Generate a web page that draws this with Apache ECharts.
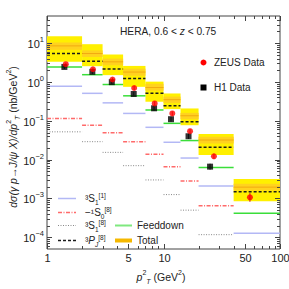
<!DOCTYPE html>
<html><head><meta charset="utf-8">
<script src="https://cdn.jsdelivr.net/npm/echarts@6/dist/echarts.min.js"></script>
<style>html,body{margin:0;padding:0;background:#fff}#c{width:289px;height:289px}</style>
</head><body><div id="c"></div>
<script>
// ---- data (pT^2 bins in GeV^2, cross sections in nb/GeV^2) ----
const binLow  = [1, 2, 3, 4.5, 7, 10, 14, 20, 40];
const binHigh = [2, 3, 4.5, 7, 10, 14, 20, 40, 100];
const s1Singlet = [0.78, 0.51, 0.29, 0.155, 0.068, 0.028, 0.011, 0.0021, 0.000127];
const s0Octet   = [0.115, 0.077, 0.049, 0.029, 0.0138, 0.0066, 0.0028, 0.00065, null];
const s1Octet   = [0.052, 0.029, 0.0154, 0.007, 0.003, 0.00126, 0.0005, 0.000117, null];
const pjOctet   = [5.4, 3.42, 2.17, 1.23, 0.515, 0.243, 0.094, 0.021, 0.0015];
const feeddown  = [2.44, 1.54, 0.86, 0.44, 0.19, 0.086, 0.031, 0.0063, 0.000416];
const totalCentral   = [8.5, 5.4, 3.3, 1.8, 0.72, 0.35, 0.135, 0.032, 0.00196];
const totalInnerLow  = [6.8, 4.4, 2.7, 1.45, 0.6, 0.29, 0.11, 0.026, 0.0016];
const totalInnerHigh = [10.4, 6.5, 4.0, 2.2, 0.9, 0.42, 0.16, 0.039, 0.0024];
const totalLow  = [3.3, 2.55, 1.5, 0.75, 0.31, 0.2, 0.077, 0.0131, 0.00085];
const totalHigh = [15, 9.4, 5.1, 2.59, 1.02, 0.506, 0.208, 0.0455, 0.00317];
const zeusPt2 = [1.45, 2.48, 3.65, 5.6, 8.4, 11.9, 16.9, 27.1, 55.2];
const zeusVal = [2.87, 2.13, 1.16, 0.70, 0.28, 0.155, 0.054, 0.0122, 0.00107];
const zeusErrLow  = [2.6, 1.95, 1.05, 0.62, 0.25, 0.135, 0.047, 0.0105, 0.00082];
const zeusErrHigh = [3.15, 2.35, 1.28, 0.79, 0.32, 0.175, 0.062, 0.0142, 0.00138];
const h1Pt2 = [1.41, 2.45, 3.6, 5.55, 8.3, 11.6, 16.4, 25.1];
const h1Val = [2.44, 1.82, 0.99, 0.49, 0.21, 0.11, 0.040, 0.0066];
const h1ErrLow  = [2.15, 1.6, 0.88, 0.43, 0.18, 0.095, 0.034, 0.0055];
const h1ErrHigh = [2.75, 2.05, 1.12, 0.56, 0.245, 0.128, 0.047, 0.0079];
const xTickMajor  = [1, 5, 10, 50, 100];
const xTickLabels = ['1', '5', '10', '50', '100'];
const xTickMinor  = [2, 3, 4, 6, 7, 8, 9, 20, 30, 40, 60, 70, 80, 90];
const yTickMajor  = [1e-4, 1e-3, 1e-2, 1e-1, 1, 10];
const yTickExp    = ['−4', '−3', '−2', '−1', '0', '1'];
const yMantissas  = [2, 3, 4, 5, 6, 7, 8, 9];
const X_MIN = 1, X_MAX = 100, Y_MIN = 5e-5, Y_MAX = 50;

const FONT = '"Liberation Sans", Arial, sans-serif';
const TXT = '#222';

function rows(vals) {
  const d = [];
  binLow.forEach((lo, i) => { if (vals[i] != null) d.push([lo, binHigh[i], vals[i]]); });
  return d;
}
function segSeries(name, vals, style, z) {
  return {
    type: 'custom', name, z, data: rows(vals), encode: { x: [0, 1], y: 2 },
    renderItem(params, api) {
      const a = api.coord([api.value(0), api.value(2)]);
      const b = api.coord([api.value(1), api.value(2)]);
      return { type: 'line', shape: { x1: a[0], y1: a[1], x2: b[0], y2: b[1] },
        style: Object.assign({ fill: null, lineCap: 'butt' }, style) };
    }
  };
}
function bandSeries(lows, highs, color, z) {
  const d = binLow.map((lo, i) => [lo, binHigh[i], lows[i], highs[i]]);
  return {
    type: 'custom', z, data: d, encode: { x: [0, 1], y: [2, 3] },
    renderItem(params, api) {
      const a = api.coord([api.value(0), api.value(3)]);
      const b = api.coord([api.value(1), api.value(2)]);
      return { type: 'rect', shape: { x: a[0], y: a[1], width: b[0] - a[0], height: b[1] - a[1] },
        style: { fill: color } };
    }
  };
}
function errSeries(xs, lo, hi, color, z) {
  return {
    type: 'custom', z, data: xs.map((x, i) => [x, lo[i], hi[i]]), encode: { x: 0, y: [1, 2] },
    renderItem(params, api) {
      const a = api.coord([api.value(0), api.value(1)]);
      const b = api.coord([api.value(0), api.value(2)]);
      return { type: 'line', shape: { x1: a[0], y1: a[1], x2: b[0], y2: b[1] }, style: { stroke: color, lineWidth: 1 } };
    }
  };
}

const yMinor = [];
[-5, -4, -3, -2, -1, 0, 1].forEach(e => yMantissas.forEach(m => {
  const v = m * Math.pow(10, e);
  if (v > Y_MIN * 1.0001 && v < Y_MAX * 0.9999) yMinor.push(v);
}));

const decor = {
  type: 'custom', z: 20, silent: true, data: [[2, 1]], encode: { x: 0, y: 1 },
  renderItem(params, api) {
    const cs = params.coordSys;
    const L = cs.x, R = cs.x + cs.width, T = cs.y, B = cs.y + cs.height;
    const ch = [];
    const st = { stroke: '#444', lineWidth: 1 };
    const ln = (x1, y1, x2, y2) => ch.push({ type: 'line', shape: { x1, y1, x2, y2 }, style: st });
    xTickMajor.forEach((v, i) => {
      const px = Math.round(api.coord([v, 1])[0]) + 0.5;
      ln(px, B, px, B - 5); ln(px, T, px, T + 5);
      ch.push({ type: 'text', x: px, y: B + 3, style: { text: xTickLabels[i], align: 'center', verticalAlign: 'top', fill: TXT, font: '11px ' + FONT } });
    });
    xTickMinor.forEach(v => {
      const px = Math.round(api.coord([v, 1])[0]) + 0.5;
      ln(px, B, px, B - 3); ln(px, T, px, T + 3);
    });
    yTickMajor.forEach((v, i) => {
      const py = Math.round(api.coord([1, v])[1]) + 0.5;
      ln(L, py, L + 5, py); ln(R, py, R - 5, py);
      ch.push({ type: 'text', x: L - 3, y: py, style: {
        text: '{b|10}{s|' + yTickExp[i] + '}', align: 'right', verticalAlign: 'middle',
        rich: { b: { fontSize: 11, fontFamily: FONT, fill: TXT, lineHeight: 17 },
                s: { fontSize: 7.5, fontFamily: FONT, fill: TXT, verticalAlign: 'top', lineHeight: 9 } } } });
    });
    yMinor.forEach(v => {
      const py = Math.round(api.coord([1, v])[1]) + 0.5;
      ln(L, py, L + 3, py); ln(R, py, R - 3, py);
    });
    return { type: 'group', children: ch };
  }
};

const chart = echarts.init(document.getElementById('c'), null, { renderer: 'svg' });

const legendRich = {
  b: { fontSize: 10, fontFamily: FONT, fill: TXT, lineHeight: 14 },
  bi: { fontSize: 10, fontFamily: FONT, fontStyle: 'italic', fill: TXT, lineHeight: 14 },
  sup: { fontSize: 6.5, fontFamily: FONT, fill: TXT, verticalAlign: 'top', lineHeight: 8 },
  sub: { fontSize: 6.5, fontFamily: FONT, fill: TXT, verticalAlign: 'bottom', lineHeight: 8 },
  subi: { fontSize: 6.5, fontFamily: FONT, fontStyle: 'italic', fill: TXT, verticalAlign: 'bottom', lineHeight: 8 }
};
function lgLine(x1, x2, y, style) {
  return { type: 'line', shape: { x1, y1: y, x2, y2: y }, style: Object.assign({ fill: null }, style), z: 100 };
}
function lgText(x, y, text, rich) {
  return { type: 'text', x, y, z: 100, style: { text, rich: rich || legendRich, align: 'left', verticalAlign: 'middle', fill: TXT, font: '10px ' + FONT } };
}

const styles = {
  s1: { stroke: '#b3b8f5', lineWidth: 1.5 },
  s0: { stroke: '#ff6a6a', lineWidth: 1.5, lineDash: [4, 1.5, 1, 1.5] },
  s1o: { stroke: '#888', lineWidth: 1, lineDash: [1, 1.5] },
  pj: { stroke: '#1a1a1a', lineWidth: 1.5, lineDash: [3, 2] },
  fd: { stroke: '#3ade3a', lineWidth: 1.5 },
  tot: { stroke: '#f2aa10', lineWidth: 1 }
};

const titleRich = (fs) => ({
  n: { fontSize: fs, fontFamily: FONT, fill: TXT, lineHeight: 16 },
  i: { fontSize: fs, fontFamily: FONT, fontStyle: 'italic', fill: TXT, lineHeight: 16 },
  sup: { fontSize: 7, fontFamily: FONT, fill: TXT, verticalAlign: 'top', lineHeight: 8 },
  sub: { fontSize: 7, fontFamily: FONT, fontStyle: 'italic', fill: TXT, verticalAlign: 'bottom', lineHeight: 8 }
});

chart.setOption({
  animation: false,
  grid: { left: 47, top: 16, width: 233, height: 233, show: true, borderColor: '#444', borderWidth: 1, backgroundColor: 'transparent' },
  xAxis: { type: 'log', logBase: 10, min: X_MIN, max: X_MAX,
    axisLine: { show: false }, axisTick: { show: false }, axisLabel: { show: false }, splitLine: { show: false } },
  yAxis: { type: 'log', logBase: 10, min: Y_MIN, max: Y_MAX,
    axisLine: { show: false }, axisTick: { show: false }, axisLabel: { show: false }, splitLine: { show: false } },
  series: [
    bandSeries(totalLow, totalHigh, '#fff000', 1),
    bandSeries(totalInnerLow, totalInnerHigh, '#ffd21f', 2),
    segSeries('Total', totalCentral, styles.tot, 3),
    segSeries('3S1[1]', s1Singlet, styles.s1, 4),
    segSeries('1S0[8]', s0Octet, styles.s0, 4),
    segSeries('3S1[8]', s1Octet, styles.s1o, 4),
    segSeries('Feeddown', feeddown, styles.fd, 5),
    segSeries('3PJ[8]', pjOctet, styles.pj, 6),
    errSeries(h1Pt2, h1ErrLow, h1ErrHigh, '#555', 7),
    errSeries(zeusPt2, zeusErrLow, zeusErrHigh, '#cc2222', 7),
    { type: 'scatter', name: 'H1 Data', z: 8, symbol: 'rect', symbolSize: 6, itemStyle: { color: '#000' },
      data: h1Pt2.map((x, i) => [x, h1Val[i]]) },
    { type: 'scatter', name: 'ZEUS Data', z: 9, symbol: 'circle', symbolSize: 6, itemStyle: { color: '#ff0000' },
      data: zeusPt2.map((x, i) => [x, zeusVal[i]]) },
    decor
  ],
  graphic: [
    { type: 'text', x: 120, y: 31, z: 100, style: { text: '{n|HERA, 0.6 < }{i|z}{n| < 0.75}', verticalAlign: 'middle',
      rich: { n: { fontSize: 10.2, fontFamily: FONT, fill: TXT }, i: { fontSize: 10.2, fontFamily: FONT, fontStyle: 'italic', fill: TXT } } } },
    { type: 'circle', z: 100, shape: { cx: 203.5, cy: 62.5, r: 3 }, style: { fill: '#ff0000' } },
    lgText(214, 62.5, '{b|ZEUS Data}'),
    { type: 'rect', z: 100, shape: { x: 200.5, y: 84.5, width: 6, height: 6 }, style: { fill: '#000' } },
    lgText(214, 87.5, '{b|H1 Data}'),
    lgLine(58, 76, 198.5, styles.s1),
    lgText(85, 198.5, '{b|³S}{sub|1}{sup|[1]}'),
    lgLine(58, 76, 212.5, styles.s0),
    lgText(85, 212.5, '{b|−¹S}{sub|0}{sup|[8]}'),
    lgLine(58, 76, 225.5, styles.s1o),
    lgText(85, 225.5, '{b|³S}{sub|1}{sup|[8]}'),
    lgLine(58, 76, 240.5, styles.pj),
    lgText(85, 240.5, '{b|³}{bi|P}{subi|J}{sup|[8]}'),
    lgLine(115, 132, 225.5, { stroke: '#7fe87f', lineWidth: 2 }),
    lgText(137, 225.5, '{b|Feeddown}'),
    lgLine(115, 132, 240.5, { stroke: '#f5b800', lineWidth: 4 }),
    lgText(137, 240.5, '{b|Total}'),
    { type: 'text', x: 161, y: 277, z: 100, style: { text: '{i|p}{sup|2}{sub|T}{n| (GeV}{sup|2}{n|)}', align: 'center', verticalAlign: 'middle',
      rich: titleRich(10.5) } },
    { type: 'text', x: 13, y: 137, rotation: Math.PI / 2, z: 100, style: {
      text: '{i|dσ(γ p→J/ψ X)/d}{i|p}{sup|2}{sub|T}{n| (nb/GeV}{sup|2}{n|)}', align: 'center', verticalAlign: 'middle',
      rich: titleRich(10.5) } }
  ]
});
</script>
</body></html>
